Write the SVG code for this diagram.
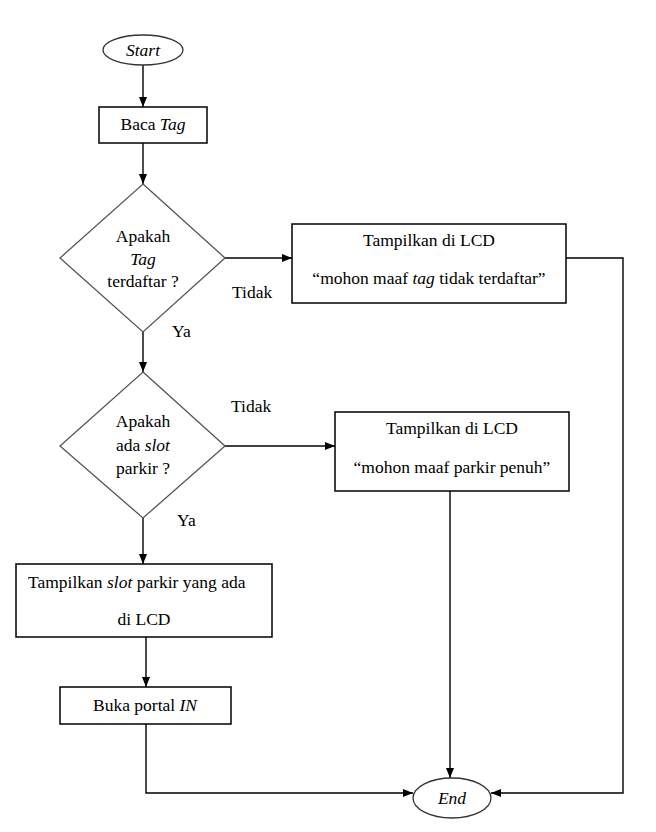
<svg xmlns="http://www.w3.org/2000/svg" width="656" height="832" viewBox="0 0 656 832">
<style>
text{font-family:'Liberation Serif','DejaVu Serif',serif;font-size:17.5px;fill:#000}
.c{text-anchor:middle}
.i{font-style:italic}
.box{fill:#fff;stroke:#000;stroke-width:1.5}
.dia{fill:#fff;stroke:#555;stroke-width:1.3}
.term{fill:#fff;stroke:#333;stroke-width:1.3}
.con{fill:none;stroke:#000;stroke-width:1.4}
</style>
<defs>
<marker id="ah" markerUnits="userSpaceOnUse" markerWidth="10" markerHeight="10" viewBox="0 0 10 10" refX="10" refY="5" orient="auto">
<path d="M0,1 L10,5 L0,9 Z" fill="#000"/>
</marker>
</defs>
<rect width="656" height="832" fill="#fff"/>
<g id="connectors">
<line class="con" x1="143" y1="65" x2="143" y2="107" marker-end="url(#ah)"/>
<line class="con" x1="143" y1="143" x2="143" y2="184" marker-end="url(#ah)"/>
<line class="con" x1="225" y1="258" x2="292" y2="258" marker-end="url(#ah)"/>
<line class="con" x1="143" y1="332" x2="143" y2="372" marker-end="url(#ah)"/>
<line class="con" x1="225" y1="446" x2="335" y2="446" marker-end="url(#ah)"/>
<line class="con" x1="143" y1="518" x2="143" y2="564" marker-end="url(#ah)"/>
<line class="con" x1="146" y1="637" x2="146" y2="687" marker-end="url(#ah)"/>
<polyline class="con" points="146,724 146,793 413,793" marker-end="url(#ah)"/>
<line class="con" x1="450" y1="491" x2="450" y2="778" marker-end="url(#ah)"/>
<polyline class="con" points="566,258 623,258 623,793 491,793" marker-end="url(#ah)"/>
<text x="232" y="298">Tidak</text>
<text x="172" y="337">Ya</text>
<text x="231" y="412">Tidak</text>
<text x="177" y="526">Ya</text>
</g>
<g id="start">
<ellipse class="term" cx="143" cy="50" rx="40" ry="15"/>
<text class="c i" x="143" y="56">Start</text>
</g>
<g id="baca-tag">
<rect class="box" x="99" y="107" width="108" height="36"/>
<text class="c" x="153" y="130">Baca <tspan class="i">Tag</tspan></text>
</g>
<g id="cek-tag">
<polygon class="dia" points="143,184 225,258 143,332 60,258"/>
<text class="c" x="143" y="242">Apakah</text>
<text class="c i" x="143" y="265">Tag</text>
<text class="c" x="143" y="287">terdaftar ?</text>
</g>
<g id="lcd-tag">
<rect class="box" x="292" y="224" width="274" height="79"/>
<text class="c" x="429" y="246">Tampilkan di LCD</text>
<text class="c" x="429" y="284">“mohon maaf <tspan class="i">tag</tspan> tidak terdaftar”</text>
</g>
<g id="cek-slot">
<polygon class="dia" points="143,372 225,446 143,518 60,446"/>
<text class="c" x="143" y="427">Apakah</text>
<text class="c" x="143" y="451">ada <tspan class="i">slot</tspan></text>
<text class="c" x="143" y="474">parkir ?</text>
</g>
<g id="lcd-penuh">
<rect class="box" x="335" y="412" width="234" height="79"/>
<text class="c" x="452" y="434">Tampilkan di LCD</text>
<text class="c" x="452" y="473">“mohon maaf parkir penuh”</text>
</g>
<g id="tampil-slot">
<rect class="box" x="16" y="564" width="256" height="73"/>
<text x="28" y="588">Tampilkan <tspan class="i">slot</tspan> parkir yang ada</text>
<text class="c" x="144" y="625">di LCD</text>
</g>
<g id="buka-portal">
<rect class="box" x="60" y="687" width="171" height="37"/>
<text class="c" x="145" y="711">Buka portal <tspan class="i">IN</tspan></text>
</g>
<g id="end">
<ellipse class="term" cx="452" cy="798" rx="39" ry="20"/>
<text class="c i" x="452" y="804">End</text>
</g>
</svg>
